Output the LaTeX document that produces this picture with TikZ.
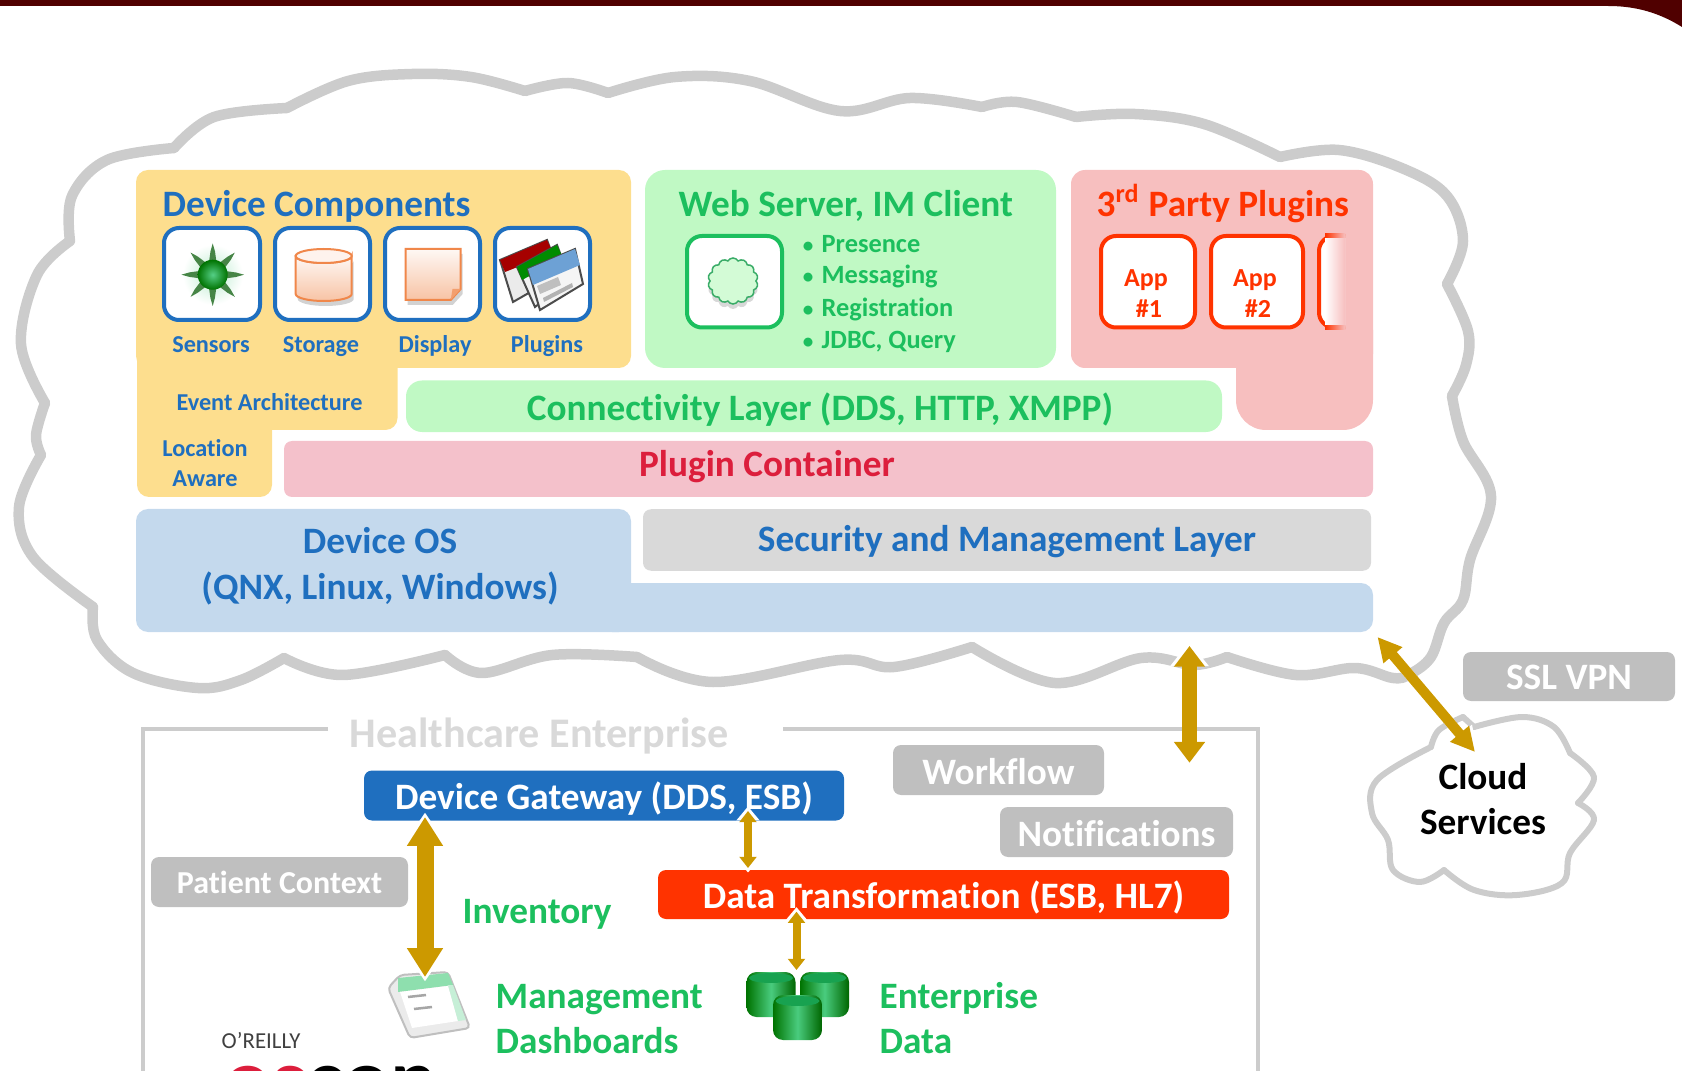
\documentclass[tikz,border=0pt]{standalone}
\usepackage{fontspec}
\setmainfont[Ligatures=NoCommon]{Carlito}
\usetikzlibrary{arrows.meta,shapes.symbols,shadows}
\definecolor{topbar}{HTML}{500000}
\definecolor{orangebg}{HTML}{FDDE8E}
\definecolor{greenbg}{HTML}{C0F9C4}
\definecolor{redbg}{HTML}{F7BFBF}
\definecolor{pluginbg}{HTML}{F4C1CB}
\definecolor{bluebg}{HTML}{C4D9ED}
\definecolor{graybg}{HTML}{D9D9D9}
\definecolor{tagbg}{HTML}{BFBFBF}
\definecolor{cloudgray}{HTML}{CCCCCC}
\definecolor{devblue}{HTML}{1F6FBF}
\definecolor{devgreen}{HTML}{1CBF5E}
\definecolor{devred}{HTML}{FF3300}
\definecolor{plugred}{HTML}{DC1E3C}
\definecolor{gold}{HTML}{CC9900}
\definecolor{iconline}{HTML}{F0874A}
\tikzset{
  big/.style={font=\fontsize{10.6}{12}\selectfont\bfseries},
  small/.style={font=\fontsize{6.9}{8}\selectfont\bfseries},
  head/.style={big,anchor=base west,inner sep=0pt},
  lab/.style={small,anchor=base,inner sep=0pt},
  listtext/.style={anchor=base west,inner sep=0pt,text=devgreen,font=\fontsize{7.5}{8}\selectfont\bfseries},
  listdot/.style={anchor=base,inner sep=0pt,text=devgreen,font=\fontsize{6}{8}\selectfont\bfseries},
  apptext/.style={anchor=base,inner sep=0pt,text=devred,font=\fontsize{7.4}{8}\selectfont\bfseries},
  tag/.style={big,fill=tagbg,text=white,rounded corners=.08cm,inner sep=0pt,minimum height=.5cm,text height=.32cm,text depth=.04cm},
  bar/.style={tag,fill=#1},
  cloudline/.style={draw=cloudgray,line width=.105cm,line cap=round,line join=round},
  minicloud/.style={draw=cloudgray,line width=.06cm,line cap=round,line join=round},
  frameline/.style={draw=cloudgray,line width=.045cm},
  iconbox/.style={draw=#1,line width=.04cm,fill=white,rounded corners=.15cm},
  iconshape/.style={draw=iconline,line width=.02cm,top color=white!70!iconline!20,bottom color=iconline!50!white,drop shadow={shadow xshift=.02cm,shadow yshift=-.05cm,opacity=.35}},
  goldlink/.style n args={5}{draw=gold,line width=#1,
    preaction={draw=white,line width=#1,shorten <=-1.3pt,shorten >=-1.3pt,arrows={Triangle[length=#4,width=#5]-Triangle[length=#4,width=#5]}},
    arrows={Triangle[length=#2,width=#3]-Triangle[length=#2,width=#3]}},
}
\begin{document}
\begin{tikzpicture}
  \useasboundingbox (0,0) rectangle (16.82,-10.71);
  \fill[topbar] (0,0) -- (16.82,0) -- (16.82,-.27) .. controls (16.55,-.10) and (16.30,-.06) .. (16.08,-.06) -- (0,-.06) -- cycle;

  % outer cloud
  \draw[cloudline] plot[smooth,tension=.6] coordinates {(.41,-4.55) (.36,-4.35) (.45,-4.03)};
  \draw[cloudline] plot[smooth,tension=.6] coordinates {(.45,-4.03) (.21,-3.44) (.37,-2.75) (.70,-2.41)};
  \draw[cloudline] plot[smooth,tension=.6] coordinates {(.70,-2.41) (.72,-1.96) (1.07,-1.60) (1.74,-1.48)};
  \draw[cloudline] plot[smooth,tension=.6] coordinates {(1.74,-1.48) (2.14,-1.17) (2.87,-1.08)};
  \draw[cloudline] plot[smooth,tension=.6] coordinates {(2.87,-1.08) (3.48,-.81) (4.12,-.74) (4.71,-.77) (5.25,-.91)};
  \draw[cloudline] plot[smooth,tension=.6] coordinates {(5.25,-.91) (5.68,-.83) (6.08,-.93)};
  \draw[cloudline] plot[smooth,tension=.6] coordinates {(6.08,-.93) (6.75,-.77) (7.50,-.81) (8.40,-1.11) (9.10,-.98) (9.82,-1.07)};
  \draw[cloudline] plot[smooth,tension=.6] coordinates {(9.82,-1.07) (10.17,-1.02) (10.76,-1.17)};
  \draw[cloudline] plot[smooth,tension=.6] coordinates {(10.76,-1.17) (11.35,-1.14) (12.04,-1.24) (12.80,-1.57)};
  \draw[cloudline] plot[smooth,tension=.6] coordinates {(12.80,-1.57) (13.39,-1.50) (14.04,-1.69) (14.47,-1.96) (14.63,-2.41) (14.47,-2.84)};
  \draw[cloudline] plot[smooth,tension=.6] coordinates {(14.47,-2.84) (14.68,-3.31) (14.66,-3.65) (14.52,-3.96)};
  \draw[cloudline] plot[smooth,tension=.6] coordinates {(14.52,-3.96) (14.63,-4.41) (14.91,-4.96) (14.70,-5.60) (14.63,-6.00) (14.44,-6.23) (14.31,-6.57) (14.10,-6.74) (13.93,-6.78) (13.55,-6.68) (12.96,-6.75) (12.27,-6.57)};
  \draw[cloudline] plot[smooth,tension=.6] coordinates {(12.27,-6.57) (11.94,-6.65) (11.41,-6.58) (10.55,-6.83) (9.72,-6.47)};
  \draw[cloudline] plot[smooth,tension=.6] coordinates {(9.72,-6.47) (8.94,-6.67) (8.40,-6.60) (7.13,-6.82) (6.37,-6.57)};
  \draw[cloudline] plot[smooth,tension=.6] coordinates {(6.37,-6.57) (5.52,-6.55) (4.82,-6.73) (4.45,-6.55)};
  \draw[cloudline] plot[smooth,tension=.6] coordinates {(4.45,-6.55) (3.43,-6.75) (2.84,-6.58)};
  \draw[cloudline] plot[smooth,tension=.6] coordinates {(2.84,-6.58) (2.41,-6.80) (1.98,-6.88) (1.33,-6.73) (.97,-6.40) (.93,-6.07)};
  \draw[cloudline] plot[smooth,tension=.6] coordinates {(.93,-6.07) (.33,-5.57) (.19,-5.07) (.41,-4.55)};

  % panels
  \fill[orangebg,rounded corners=.12cm] (1.36,-1.70) rectangle (6.31,-3.68);
  \fill[orangebg,rounded corners=.12cm] (1.37,-3.00) rectangle (3.975,-4.30);
  \fill[orangebg,rounded corners=.12cm] (1.37,-4.00) rectangle (2.72,-4.97);
  \fill[greenbg,rounded corners=.2cm] (6.45,-1.70) rectangle (10.56,-3.68);
  \fill[redbg,rounded corners=.14cm] (10.71,-1.70) rectangle (13.73,-3.68);
  \fill[redbg,rounded corners=.3cm] (12.36,-3.00) rectangle (13.73,-4.30);
  \fill[greenbg,rounded corners=.16cm] (4.06,-3.805) rectangle (12.22,-4.32);
  \fill[pluginbg,rounded corners=.08cm] (2.84,-4.41) rectangle (13.73,-4.97);
  \fill[bluebg,rounded corners=.12cm] (1.36,-5.09) rectangle (6.31,-6.32);
  \fill[bluebg,rounded corners=.12cm] (6.00,-5.83) rectangle (13.73,-6.32);

  \draw (1.62,-2.165) node[head,text=devblue] (devcomp) {Device Components};
  \draw (6.78,-2.165) node[head,text=devgreen] (webserver) {Web Server, IM Client};
  \draw (10.96,-2.165) node[head,text=devred] (thirdparty) {3\textsuperscript{rd} Party Plugins};

  % device component icons
  \draw[iconbox=devblue] (1.64,-2.28) rectangle (2.60,-3.20);
  \draw[iconbox=devblue] (2.75,-2.28) rectangle (3.70,-3.20);
  \draw[iconbox=devblue] (3.85,-2.28) rectangle (4.80,-3.20);
  \draw[iconbox=devblue] (4.95,-2.28) rectangle (5.90,-3.20);
  \shade[inner color=devgreen!30,outer color=white] (2.127,-2.747) circle (.30);
  \foreach \ang in {0,45,...,315}
    \fill[rotate around={\ang:(2.127,-2.747)},black!45!green!45!gray] (2.25,-2.71) -- (2.25,-2.785) -- (2.36,-2.77) -- (2.44,-2.747) -- (2.36,-2.725) -- cycle;
  \shade[inner color=devgreen!75!white,outer color=green!45!black] (2.127,-2.747) circle (.15);
  \path[iconshape] (2.957,-2.56) -- (2.957,-2.94) arc (180:360:.28 and .07) -- (3.517,-2.56) arc (0:-180:.28 and .07) -- cycle;
  \draw[iconline,line width=.02cm,fill=white!90!iconline] (3.237,-2.56) ellipse (.28 and .07);
  \path[iconshape] (4.057,-2.49) -- (4.607,-2.49) -- (4.607,-2.89) -- (4.507,-3.00) -- (4.057,-3.00) -- cycle;
  \fill[iconline!80!white] (4.607,-2.89) -- (4.507,-3.00) -- (4.525,-2.89) -- cycle;

  \draw[black!70,fill=black!8,line width=.02cm] (5.00,-2.60) -- (5.47,-2.40) -- (5.60,-2.75) -- (5.13,-3.02) -- cycle;
  \fill[red!65!black] (5.00,-2.60) -- (5.47,-2.40) -- (5.53,-2.53) -- (5.05,-2.72) -- cycle;
  \draw[black!70,fill=black!5,line width=.02cm] (5.17,-2.67) -- (5.57,-2.45) -- (5.70,-2.80) -- (5.35,-3.07) -- cycle;
  \fill[green!55!black] (5.17,-2.67) -- (5.57,-2.45) -- (5.63,-2.58) -- (5.22,-2.80) -- cycle;
  \draw[black!70,fill=black!4,line width=.02cm] (5.28,-2.69) -- (5.75,-2.49) -- (5.83,-2.84) -- (5.40,-3.10) -- cycle;
  \fill[devblue!65!white] (5.28,-2.69) -- (5.75,-2.49) -- (5.80,-2.65) -- (5.33,-2.85) -- cycle;
  \fill[black!25] (5.37,-2.86) -- (5.58,-2.77) -- (5.61,-2.85) -- (5.40,-2.94) -- cycle;
  \fill[black!30] (5.43,-2.98) -- (5.72,-2.83) -- (5.73,-2.87) -- (5.44,-3.02) -- cycle;

  \draw (2.11,-3.525) node[lab,text=devblue] (sensors) {Sensors};
  \draw (3.21,-3.525) node[lab,text=devblue] (storage) {Storage};
  \draw (4.35,-3.525) node[lab,text=devblue] (display) {Display};
  \draw (5.47,-3.525) node[lab,text=devblue] (plugins) {Plugins};
  \draw (2.695,-4.105) node[lab,text=devblue] (eventarch) {Event Architecture};
  \draw (2.05,-4.57) node[lab,text=devblue] (location) {Location};
  \draw (2.05,-4.86) node[lab,text=devblue] (aware) {Aware};

  % web server
  \draw[iconbox=devgreen] (6.87,-2.36) rectangle (7.82,-3.275);
  \node[cloud,cloud puffs=14,cloud puff arc=120,aspect=1,draw=devgreen!70!gray,line width=.015cm,fill=greenbg!70!white,minimum width=.5cm,minimum height=.46cm,inner sep=0pt,drop shadow={shadow xshift=0cm,shadow yshift=-.05cm,opacity=.3}] (webcloud) at (7.33,-2.81) {};
  \draw (8.08,-2.53) node[listdot] (dota) {•};
  \draw (8.08,-2.84) node[listdot] (dotb) {•};
  \draw (8.08,-3.165) node[listdot] (dotc) {•};
  \draw (8.08,-3.485) node[listdot] (dotd) {•};
  \draw (8.21,-2.53) node[listtext] (presence) {Presence};
  \draw (8.21,-2.84) node[listtext] (messaging) {Messaging};
  \draw (8.21,-3.165) node[listtext] (registration) {Registration};
  \draw (8.21,-3.485) node[listtext] (jdbc) {JDBC, Query};

  % apps
  \draw[iconbox=devred] (11.01,-2.36) rectangle (11.95,-3.275);
  \draw[iconbox=devred] (12.11,-2.36) rectangle (13.03,-3.275);
  \draw[iconbox=devred] (13.45,-2.36) -- (13.19,-2.36) -- (13.19,-3.275) -- (13.45,-3.275);
  \shade[left color=white,right color=redbg] (13.25,-2.38) rectangle (13.45,-3.255);
  \shade[left color=devred,right color=redbg] (13.25,-2.34) rectangle (13.45,-2.38);
  \shade[left color=devred,right color=redbg] (13.25,-3.255) rectangle (13.45,-3.295);
  \draw (11.46,-2.865) node[apptext] (appa) {App};
  \draw (11.49,-3.175) node[apptext] (numa) {\#1};
  \draw (12.55,-2.865) node[apptext] (appb) {App};
  \draw (12.58,-3.175) node[apptext] (numb) {\#2};

  \draw (8.20,-4.21) node[big,anchor=base,inner sep=0pt,text=devgreen] (connect) {Connectivity Layer (DDS, HTTP, XMPP)};
  \draw (7.67,-4.77) node[big,anchor=base,inner sep=0pt,text=plugred] (container) {Plugin Container};
  \draw (3.80,-5.53) node[big,anchor=base,inner sep=0pt,text=devblue] (deviceos) {Device OS};
  \draw (3.80,-5.99) node[big,anchor=base,inner sep=0pt,text=devblue] (qnx) {(QNX, Linux, Windows)};
  \draw (10.07,-5.40) node[tag,fill=graybg,text=devblue,minimum width=7.28cm,minimum height=.615cm,text height=.26cm] (security) {Security and Management Layer};

  % enterprise
  \draw[frameline] (3.28,-7.29) -- (1.43,-7.29) -- (1.43,-10.71);
  \draw[frameline] (7.83,-7.29) -- (12.58,-7.29) -- (12.58,-10.71);
  \draw (3.49,-7.475) node[head,text=graybg,font=\fontsize{12}{14}\selectfont\bfseries] (enterprise) {Healthcare Enterprise};
  \draw (6.04,-7.955) node[bar=devblue,minimum width=4.80cm] (gateway) {Device Gateway (DDS, ESB)};
  \draw (9.435,-8.945) node[bar=devred,minimum width=5.71cm,minimum height=.49cm] (transform) {Data Transformation (ESB, HL7)};
  \draw (9.985,-7.70) node[tag,minimum width=2.11cm] (workflow) {Workflow};
  \draw (11.165,-8.32) node[tag,minimum width=2.33cm] (notify) {Notifications};
  \draw (2.795,-8.82) node[tag,minimum width=2.57cm,text height=.26cm,font=\fontsize{9.1}{11}\selectfont\bfseries] (patient) {Patient Context};
  \draw (15.69,-6.765) node[tag,minimum width=2.12cm,minimum height=.49cm,text height=.30cm] (sslvpn) {SSL VPN};
  \draw (4.62,-9.23) node[head,text=devgreen] (inventory) {Inventory};
  \draw (4.95,-10.085) node[head,text=devgreen] (management) {Management};
  \draw (4.95,-10.535) node[head,text=devgreen] (dashboards) {Dashboards};
  \draw (8.79,-10.085) node[head,text=devgreen] (entdata) {Enterprise};
  \draw (8.79,-10.535) node[head,text=devgreen] (data) {Data};
  \draw (2.21,-10.48) node[head,text=black!75,font=\fontsize{6.5}{7}\selectfont] (oreilly) {O'REILLY};
  \draw (2.24,-11.09) node[head,text=black,font=\fontsize{25}{27}\selectfont\bfseries] (oscon) {\textcolor{plugred}{os}con};

  % dashboard
  \draw[black!25,fill=black!8,line width=.02cm,rounded corners=.04cm] (3.88,-9.88) -- (4.00,-9.75) -- (4.48,-9.72) -- (4.70,-10.28) -- (4.10,-10.38) -- cycle;
  \fill[devgreen!50!white] (3.98,-9.78) -- (4.48,-9.73) -- (4.53,-9.85) -- (3.98,-9.92) -- cycle;
  \fill[white] (4.00,-9.92) -- (4.48,-9.86) -- (4.58,-10.21) -- (4.12,-10.28) -- cycle;
  \fill[devgreen!25!white] (4.48,-9.85) -- (4.53,-9.85) -- (4.66,-10.20) -- (4.58,-10.21) -- cycle;
  \draw[black!35,line width=.025cm] (4.08,-9.97) -- (4.26,-9.95);
  \draw[black!35,line width=.025cm] (4.14,-10.09) -- (4.32,-10.07);

  % data
  \foreach \xa/\ya in {7.465/-9.72,8.00/-9.72,7.73/-9.95}{
    \shade[left color=green!45!black,right color=green!40!black,middle color=devgreen!80!white,rounded corners=.1cm] (\xa,\ya) rectangle ++(.49,-.45);
    \fill[devgreen!85!black] (\xa+.245,\ya-.06) ellipse (.22 and .05);
  }

  % cloud services
  \draw[minicloud] plot[smooth,tension=.6] coordinates {(14.31,-7.47) (14.39,-7.30) (14.63,-7.17)};
  \draw[minicloud] plot[smooth,tension=.6] coordinates {(14.63,-7.17) (14.74,-7.27)};
  \draw[minicloud] plot[smooth,tension=.6] coordinates {(14.74,-7.27) (15.22,-7.17) (15.54,-7.27) (15.70,-7.53)};
  \draw[minicloud] plot[smooth,tension=.6] coordinates {(15.70,-7.53) (15.94,-7.77) (15.78,-8.03)};
  \draw[minicloud] plot[smooth,tension=.6] coordinates {(15.78,-8.03) (15.94,-8.20) (15.70,-8.53) (15.62,-8.83) (15.17,-8.95) (14.74,-8.90) (14.44,-8.70)};
  \draw[minicloud] plot[smooth,tension=.6] coordinates {(14.44,-8.70) (14.20,-8.82) (13.93,-8.70) (13.88,-8.40) (13.72,-8.13) (13.77,-7.80) (14.31,-7.47)};
  \draw (14.83,-7.89) node[big,anchor=base,inner sep=0pt] (cloud) {Cloud};
  \draw (14.83,-8.34) node[big,anchor=base,inner sep=0pt] (services) {Services};

  % links
  \coordinate (cloudend) at (11.895,-6.46);
  \coordinate (frameend) at (11.895,-7.627);
  \coordinate (vpnstart) at (13.775,-6.37);
  \coordinate (vpnend) at (14.75,-7.52);
  \coordinate (gwleft) at (4.25,-8.17);
  \coordinate (dashtop) at (4.25,-9.77);
  \coordinate (gwright) at (7.48,-8.11);
  \coordinate (datatop) at (7.48,-8.68);
  \coordinate (databot) at (7.965,-9.117);
  \coordinate (dbtop) at (7.965,-9.70);

  \draw[goldlink={.15cm}{5.9pt}{8.5pt}{7pt}{10.5pt}] (cloudend) -- (frameend);
  \draw[goldlink={.10cm}{6.8pt}{6.6pt}{7.8pt}{8.2pt}] (vpnstart) -- (vpnend);
  \draw[goldlink={.17cm}{8.2pt}{9.7pt}{9.4pt}{12pt}] (gwleft) -- (dashtop);
  \draw[goldlink={.08cm}{3.2pt}{4.8pt}{4pt}{6.4pt}] (gwright) -- (datatop);
  \draw[goldlink={.08cm}{3.2pt}{4.8pt}{4pt}{6.4pt}] (databot) -- (dbtop);
\end{tikzpicture}
\end{document}
